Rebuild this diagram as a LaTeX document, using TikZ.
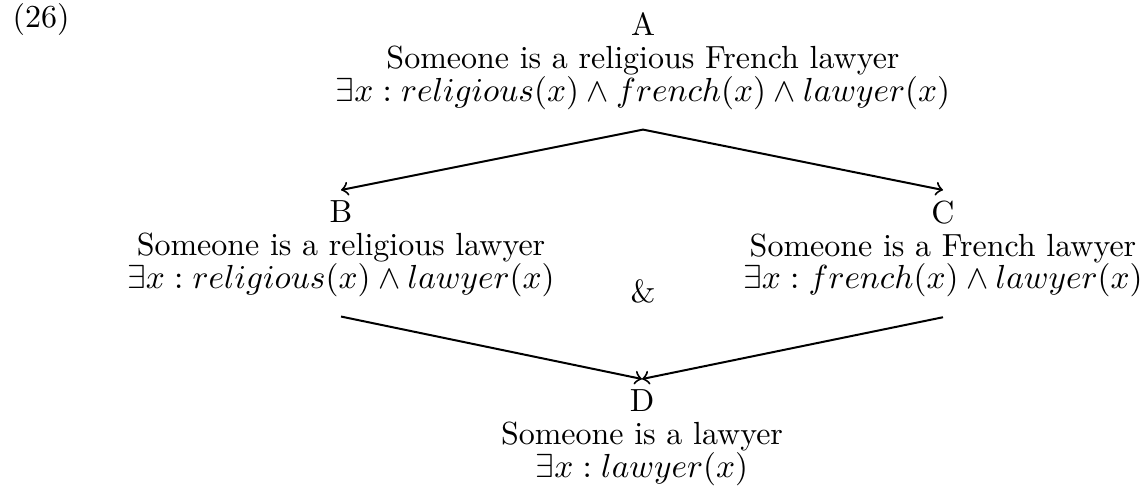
\documentclass[tikz,border=0pt]{standalone}
\begin{document}
\begin{tikzpicture}[x=0.3pt, y=-0.3pt,
  every node/.style={font=\fontsize{9.6}{9.8}\selectfont},
  prop/.style={align=center, anchor=north, inner sep=0pt, outer sep=3.3pt},
  entail/.style={->, semithick}]
\useasboundingbox (0,0) rectangle (1146,496);
% ====================
% Example number
\node[anchor=base west, inner sep=0pt] (num) at (12,27) {(26)};

% ====================
% Top proposition A
\node[prop] (A) at (643,2)
  {A\\ Someone is a religious French lawyer\\
   $\exists x : religious(x) \wedge french(x) \wedge lawyer(x)$};

% ====================
% Middle propositions B and C, joined by &
\node[prop] (B) at (341,190)
  {B\\ Someone is a religious lawyer\\
   $\exists x : religious(x) \wedge lawyer(x)$};
\node[prop] (C) at (943,190)
  {C\\ Someone is a French lawyer\\
   $\exists x : french(x) \wedge lawyer(x)$};
\node[anchor=base, inner sep=0pt] (amp) at (643,302) {\&};

% ====================
% Bottom proposition D
\node[prop] (D) at (642,379)
  {D\\ Someone is a lawyer\\
   $\exists x : lawyer(x)$};

% ====================
% Entailment arrows
\draw[entail] ([yshift=-2.7pt]A.south) -- (B.north);
\draw[entail] ([yshift=-2.7pt]A.south) -- (C.north);
\draw[entail] ([yshift=-2.7pt]B.south) -- (D.north);
\draw[entail] ([yshift=-2.7pt]C.south) -- (D.north);

\end{tikzpicture}
\end{document}
